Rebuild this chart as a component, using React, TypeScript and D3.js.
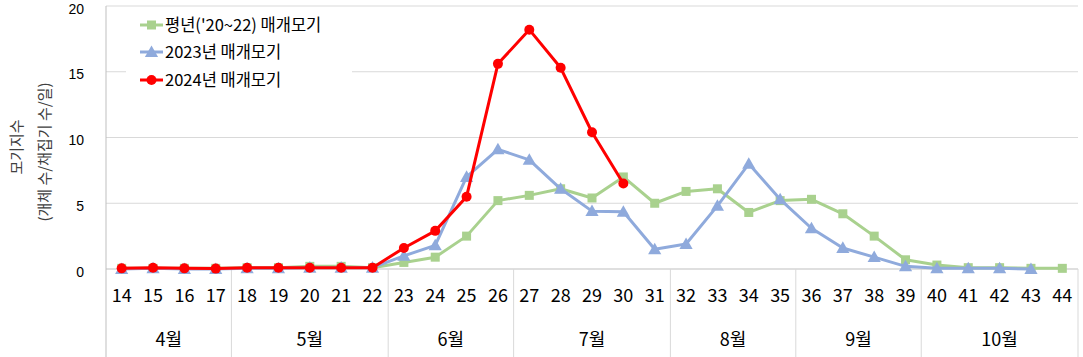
import React from "react";
import * as d3 from "d3";

const weeks = [14,15,16,17,18,19,20,21,22,23,24,25,26,27,28,29,30,31,32,33,34,35,36,37,38,39,40,41,42,43,44];
const months = [
  { label: "4월", from: 14, to: 17 },
  { label: "5월", from: 18, to: 22 },
  { label: "6월", from: 23, to: 26 },
  { label: "7월", from: 27, to: 31 },
  { label: "8월", from: 32, to: 35 },
  { label: "9월", from: 36, to: 39 },
  { label: "10월", from: 40, to: 44 },
];
const avgValues = [0.05,0.05,0.05,0.05,0.1,0.1,0.2,0.2,0.1,0.5,0.9,2.5,5.2,5.6,6.1,5.4,7.0,5.0,5.9,6.1,4.3,5.2,5.3,4.2,2.5,0.7,0.3,0.1,0.1,0.05,0.05];
const y2023Values = [0.0,0.05,0.0,0.0,0.05,0.05,0.1,0.1,0.1,1.0,1.8,7.0,9.1,8.3,6.1,4.4,4.35,1.5,1.9,4.8,8.0,5.3,3.1,1.6,0.9,0.2,0.05,0.05,0.05,0.0];
const y2024Values = [0.05,0.1,0.05,0.03,0.1,0.1,0.1,0.1,0.1,1.6,2.9,5.5,15.6,18.2,15.3,10.4,6.5];
const yTicks = [0,5,10,15,20];
const seriesNames = ["평년('20~22) 매개모기", "2023년 매개모기", "2024년 매개모기"];

const W = 1083, H = 357;
const left = 106, right = 1078, top = 6, bottom = 269;
const FONT = "'Noto Sans CJK KR', 'Noto Sans', sans-serif";

export default function App() {
  const x = d3.scaleBand<number>().domain(weeks).range([left, right]).paddingInner(0).paddingOuter(0);
  const cx = (w: number) => (x(w) as number) + x.bandwidth() / 2;
  const y = d3.scaleLinear().domain([0, 20]).range([bottom, top]);
  const line = d3.line<number>().x((_, i) => cx(weeks[i])).y((d) => y(d));

  const green = "#A9D18E", blue = "#8FAADC", red = "#FF0000";

  const tri = (px: number, py: number, s: number) =>
    `M${px},${py - s * 0.6}L${px + s * 0.6},${py + s * 0.45}L${px - s * 0.6},${py + s * 0.45}Z`;

  return (
    <svg width={W} height={H} style={{ position: "absolute", left: 0, top: 0, background: "#fff" }} fontFamily={FONT}>
      {/* gridlines */}
      {yTicks.filter((t) => t > 0).map((t) => (
        <line key={t} x1={left} x2={right} y1={y(t)} y2={y(t)} stroke="#d9d9d9" strokeWidth={1} />
      ))}
      {/* y ticks labels */}
      {yTicks.map((t) => (
        <text key={t} x={84} y={y(t) + 7.5} textAnchor="end" fontSize={14} fill="#000"
          fontFamily="'Liberation Sans', Arial, sans-serif">{t}</text>
      ))}
      {/* axes */}
      <line x1={left} x2={left} y1={top} y2={H} stroke="#bfbfbf" strokeWidth={1} />
      <line x1={left} x2={right} y1={bottom} y2={bottom} stroke="#bfbfbf" strokeWidth={1} />
      {/* month separators */}
      {months.map((m) => {
        const xe = (x(m.to) as number) + x.bandwidth();
        return <line key={m.label + "s"} x1={xe} x2={xe} y1={bottom} y2={H} stroke="#d9d9d9" strokeWidth={1} />;
      })}
      {/* category labels */}
      {weeks.map((w) => (
        <text key={w} x={cx(w)} y={296} dy="0.35em" textAnchor="middle" fontSize={18} fill="#000">{w}</text>
      ))}
      {months.map((m) => {
        const xs = x(m.from) as number;
        const xe = (x(m.to) as number) + x.bandwidth();
        return (
          <text key={m.label} x={(xs + xe) / 2} y={340} dy="0.35em" textAnchor="middle" fontSize={18} fill="#000">{m.label}</text>
        );
      })}
      {/* y axis title */}
      <g transform={`translate(17,147) rotate(-90)`}>
        <text x={0} y={0} dy="0.35em" textAnchor="middle" fontSize={15} fill="#404040">모기지수</text>
      </g>
      <g transform={`translate(45,152) rotate(-90)`}>
        <text x={0} y={0} dy="0.35em" textAnchor="middle" fontSize={15} fill="#404040">(개체 수/채집기 수/일)</text>
      </g>

      {/* series */}
      <path d={line(avgValues) || ""} fill="none" stroke={green} strokeWidth={3} strokeLinejoin="round" />
      {avgValues.map((v, i) => (
        <rect key={"g" + i} x={cx(weeks[i]) - 4.5} y={y(v) - 4.5} width={9} height={9} fill={green} />
      ))}
      <path d={line(y2023Values) || ""} fill="none" stroke={blue} strokeWidth={3} strokeLinejoin="round" />
      {y2023Values.map((v, i) => (
        <path key={"b" + i} d={tri(cx(weeks[i]), y(v), 11)} fill={blue} />
      ))}
      <path d={line(y2024Values) || ""} fill="none" stroke={red} strokeWidth={3} strokeLinejoin="round" />
      {y2024Values.map((v, i) => (
        <circle key={"r" + i} cx={cx(weeks[i])} cy={y(v)} r={5} fill={red} />
      ))}

      {/* legend */}
      <rect x={126} y={8} width={226} height={92} fill="#fff" />
      {seriesNames.map((name, i) => {
        const ly = [25, 52, 80][i];
        const col = [green, blue, red][i];
        return (
          <g key={name}>
            <line x1={140} x2={163} y1={ly} y2={ly} stroke={col} strokeWidth={3} />
            {i === 0 && <rect x={147} y={ly - 4.5} width={9} height={9} fill={col} />}
            {i === 1 && <path d={tri(151.5, ly, 11)} fill={col} />}
            {i === 2 && <circle cx={151.5} cy={ly} r={5} fill={col} />}
            <text x={165} y={ly} dy="0.35em" fontSize={16.5} fill="#000">{name}</text>
          </g>
        );
      })}
    </svg>
  );
}
